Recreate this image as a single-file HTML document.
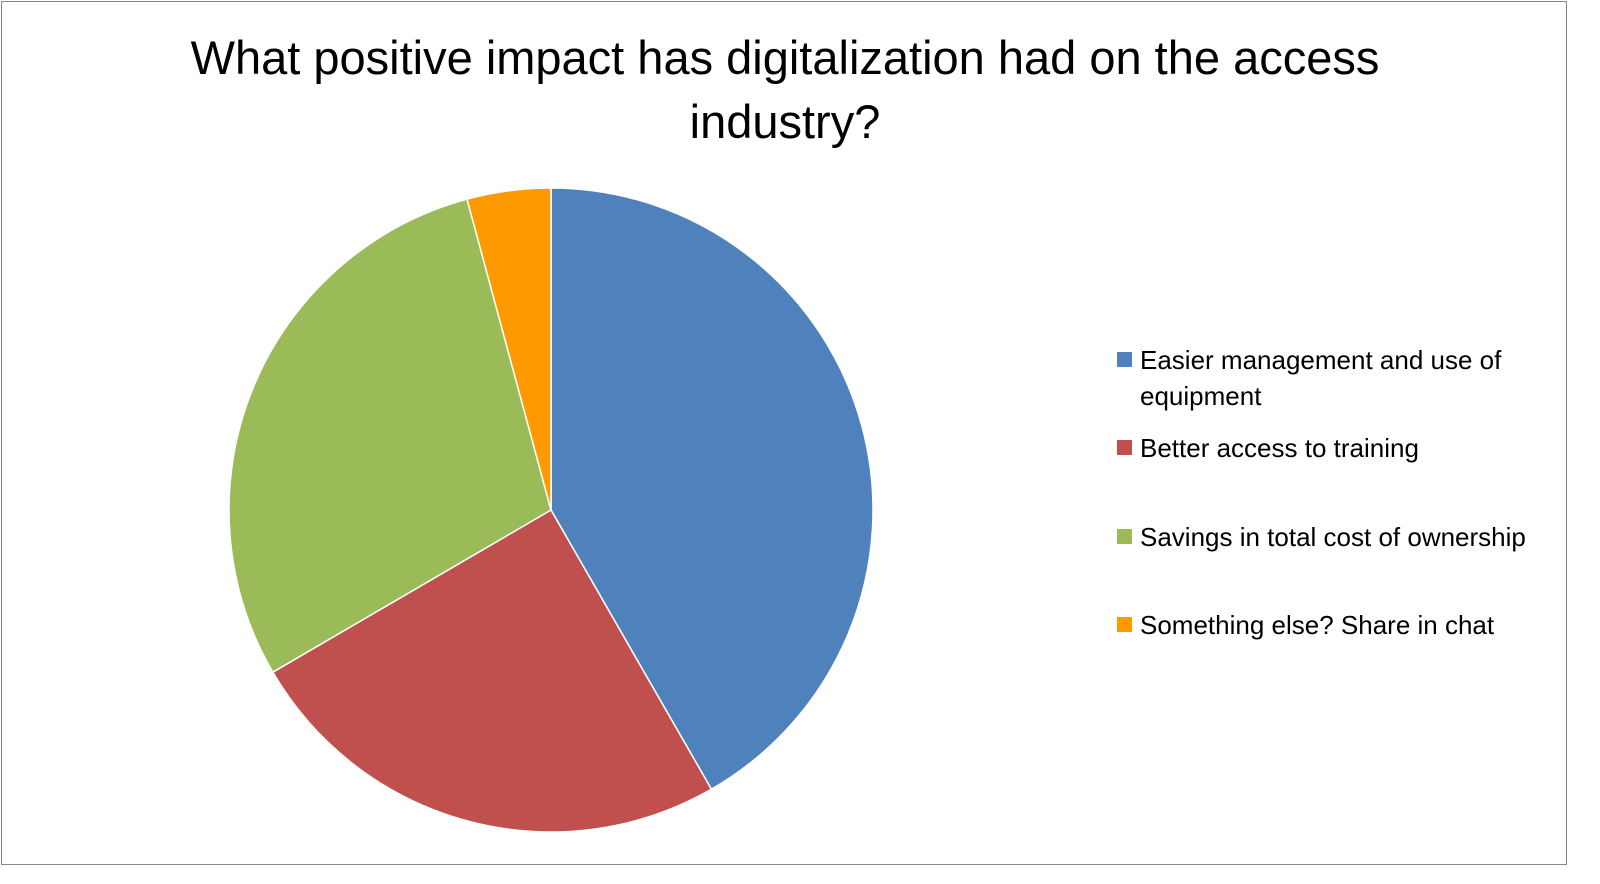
<!DOCTYPE html>
<html><head><meta charset="utf-8"><style>
body{margin:0;background:#fff;}
#wrap{position:relative;width:1600px;height:884px;overflow:hidden;font-family:"Liberation Sans",sans-serif;}
#frame{position:absolute;left:1px;top:1px;width:1564px;height:862px;border:1px solid #868686;}
</style></head><body>
<div id="wrap">
<div id="frame"></div>
<svg id="chart" width="1600" height="884" style="position:absolute;left:0;top:0">
<text x="785" y="74" font-size="47" text-anchor="middle" fill="#000" font-family="Liberation Sans, sans-serif">What positive impact has digitalization had on the access</text>
<text x="785" y="138" font-size="47" text-anchor="middle" fill="#000" font-family="Liberation Sans, sans-serif">industry?</text>
<g id="slices"></g>
<g id="legend"></g>
</svg>
</div>
<script>
const categories = ["Easier management and use of equipment","Better access to training","Savings in total cost of ownership","Something else? Share in chat"];
const values = [41.7, 24.9, 29.2, 4.2];
const colors = ["#4f81bd","#c0504d","#9bbb59","#ff9900"];
const legendLines = [["Easier management and use of","equipment"],["Better access to training"],["Savings in total cost of ownership"],["Something else? Share in chat"]];
const NS="http://www.w3.org/2000/svg";
const cx=551, cy=510, r=322;
const total=values.reduce((a,b)=>a+b,0);
const g=document.getElementById('slices');
let a0=0;
function pt(a){return [cx+r*Math.sin(a), cy-r*Math.cos(a)];}
values.forEach((v,i)=>{
  const a1=a0+v/total*2*Math.PI;
  const p0=pt(a0), p1=pt(a1);
  const large=(a1-a0)>Math.PI?1:0;
  const path=document.createElementNS(NS,'path');
  path.setAttribute('d',`M${cx},${cy} L${p0[0]},${p0[1]} A${r},${r} 0 ${large} 1 ${p1[0]},${p1[1]} Z`);
  path.setAttribute('fill',colors[i]);
  path.setAttribute('stroke','#fff');
  path.setAttribute('stroke-width','1.5');
  
  
  g.appendChild(path);
  a0=a1;
});
const lg=document.getElementById('legend');
const ys=[360,448,537,625];
legendLines.forEach((lines,i)=>{
  const gi=document.createElementNS(NS,'g');
  
  
  const rect=document.createElementNS(NS,'rect');
  rect.setAttribute('x',1117);rect.setAttribute('y',ys[i]-8);
  rect.setAttribute('width',15);rect.setAttribute('height',15);
  rect.setAttribute('fill',colors[i]);
  
  
  gi.appendChild(rect);
  lines.forEach((ln,j)=>{
    const t=document.createElementNS(NS,'text');
    t.setAttribute('x',1140);t.setAttribute('y',ys[i]+9+j*36);
    t.setAttribute('font-size','26');
    t.setAttribute('font-family','Liberation Sans, sans-serif');
    t.setAttribute('fill','#000');
    t.textContent=ln;
    
    
    gi.appendChild(t);
  });
  lg.appendChild(gi);
});
</script>
</body></html>
